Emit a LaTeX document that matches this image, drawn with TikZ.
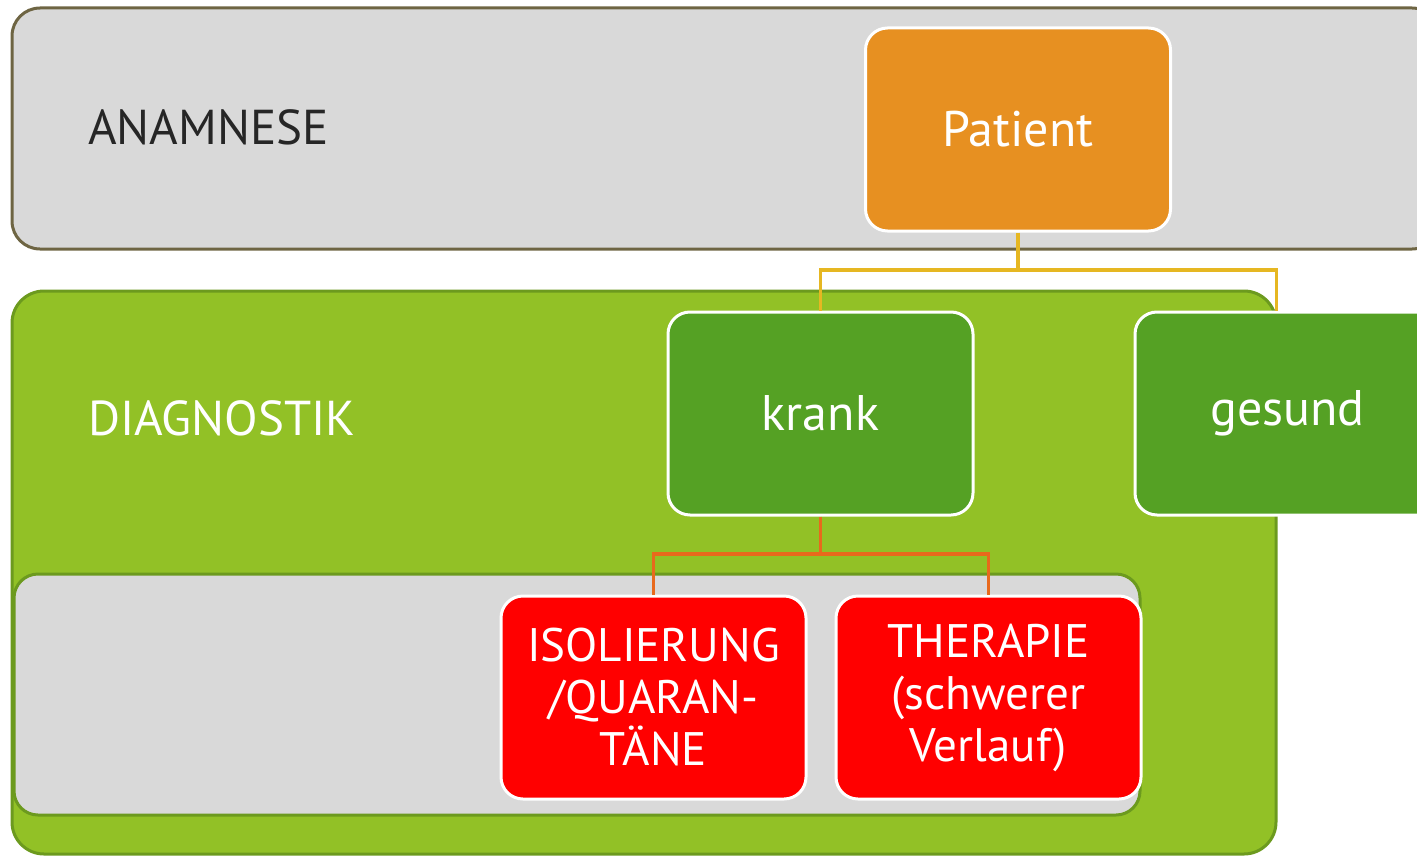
\documentclass[tikz,border=0pt]{standalone}
\usepackage{fontspec}
\setmainfont{PT Sans}
\usetikzlibrary{positioning}

\definecolor{panelgray}{HTML}{D9D9D9}
\definecolor{olive}{HTML}{6E6543}
\definecolor{lightgreen}{HTML}{92C126}
\definecolor{edgegreen}{HTML}{6C9A1E}
\definecolor{boxgreen}{HTML}{55A124}
\definecolor{boxorange}{HTML}{E79021}
\definecolor{boxred}{HTML}{FF0000}
\definecolor{linegold}{HTML}{E6B722}
\definecolor{lineorange}{HTML}{E8691C}
\definecolor{darktext}{HTML}{262626}

\begin{document}
\begin{tikzpicture}[x=0.5pt,y=-0.5pt,
    box/.style={draw=white, line width=1.5pt, rounded corners=11pt,
        minimum width=152.5pt, minimum height=101.5pt, text=white,
        align=center, font=\fontsize{25}{26}\selectfont},
    redbox/.style={box, fill=boxred, font=\fontsize{23.5}{26}\selectfont},
    link/.style={line width=1.8pt}]
    \useasboundingbox (0,0) rectangle (1417,856);
    \clip (0,0) rectangle (1417,856);

    % Panels (the bands behind the boxes)
    \draw[olive, fill=panelgray, line width=1.5pt, rounded corners=14pt]
        (12,8) rectangle (1440,249);
    \draw[edgegreen, fill=lightgreen, line width=1.5pt, rounded corners=16pt]
        (12,291) rectangle (1276,854);
    \draw[edgegreen, fill=panelgray, line width=1.5pt, rounded corners=12pt]
        (14,574) rectangle (1140,815);

    % Band titles
    \node[anchor=west, text=darktext, font=\fontsize{24.5}{28}\selectfont]
        (anamnese) at (81,127) {ANAMNESE};
    \node[anchor=west, text=white, font=\fontsize{24.5}{28}\selectfont]
        (diagnostik) at (81,418) {DIAGNOSTIK};

    % Boxes
    \node[box, fill=boxorange] (patient) at (1018,129.5) {Patient};
    \node[box, fill=boxgreen] (krank) at (820.5,413.5) {krank};
    \node[box, fill=boxgreen] (gesund) at (1287.5,413.5) {\raisebox{-1.5pt}{gesund}};
    \node[redbox] (isol) at (653.5,697.5) {ISOLIERUNG\\/QUARAN-\\TÄNE};
    \node[redbox] (therapie) at (988.5,697.5) {THERAPIE\\(schwerer\\Verlauf)};

    % Connectors
    \coordinate (fork1) at (1018,270);
    \coordinate (fork2) at (820.5,554);
    \draw[link, linegold] (patient.south) -- (fork1) -| (krank.north);
    \draw[link, linegold] (fork1) -| ([xshift=-5.5pt]gesund.north);
    \draw[link, lineorange] (krank.south) -- (fork2) -| (isol.north);
    \draw[link, lineorange] (fork2) -| (therapie.north);
\end{tikzpicture}
\end{document}
